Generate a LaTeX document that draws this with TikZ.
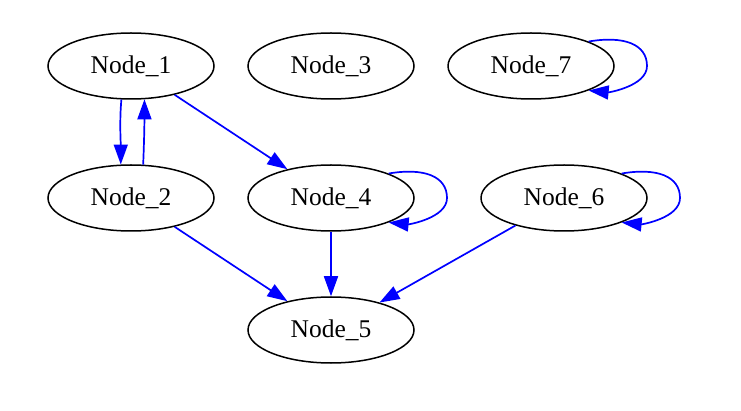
\documentclass[tikz,border=0pt]{standalone}
\usepackage{fontspec}
\setmainfont{Liberation Serif}
\usetikzlibrary{shapes.geometric,arrows.meta,calc}
\begin{document}
\begin{tikzpicture}[x=1pt,y=-1pt,
  gnode/.style={ellipse,draw=black,line width=1.5pt,minimum width=166pt,minimum height=66pt,inner sep=0pt,font=\fontsize{25.5}{30}\selectfont},
  edge/.style={draw=blue,line width=1.7pt,-{Triangle[length=20pt,width=14pt]}}]
\useasboundingbox (0,0) rectangle (741,411);
\node[gnode] (n1) at (131,66) {Node\_1};
\node[gnode] (n3) at (331,66) {Node\_3};
\node[gnode] (n7) at (531,66) {Node\_7};
\node[gnode] (n2) at (131,198) {Node\_2};
\node[gnode] (n4) at (331,198) {Node\_4};
\node[gnode] (n6) at (564,198) {Node\_6};
\node[gnode] (n5) at (331,330) {Node\_5};
\path[edge] (n1.-106) .. controls +(-2,22) and +(0,-22) .. (n2.107);
\path[edge] (n2.70) .. controls +(1,-22) and +(0,22) .. (n1.-68);
\path[edge] (n1) -- (n4);
\path[edge] (n2) -- (n5);
\path[edge] (n4) -- (n5);
\path[edge] (n6) -- (n5);
\foreach \n in {n7,n4,n6}{
  \path[edge] (\n.23) .. controls +(35,-6) and +(0,-22) .. ($(\n)+(116,0)$)
     .. controls +(0,20) and +(20,2) .. (\n.-23);
}
\end{tikzpicture}
\end{document}
